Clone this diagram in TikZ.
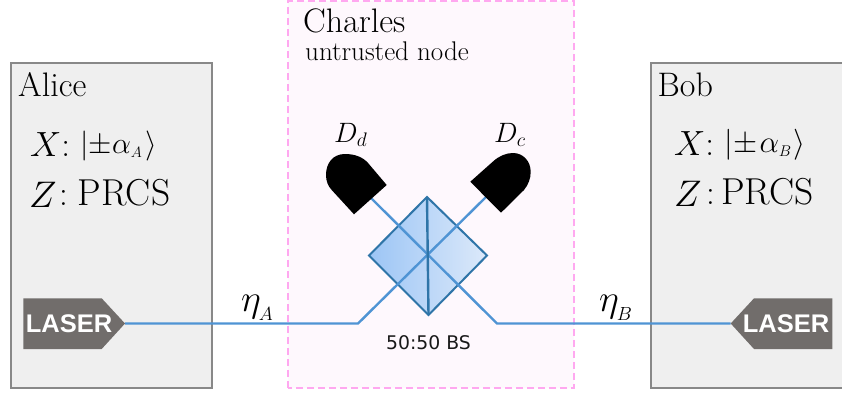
\RequirePackage{fix-cm}
\documentclass[tikz,border=0pt]{standalone}
\usepackage{fontspec}
\newfontfamily\lasfont{Liberation Sans}
\newfontfamily\bsfont{DejaVu Sans}
\definecolor{boxfill}{HTML}{EFEFEF}
\definecolor{boxline}{HTML}{888888}
\definecolor{pinkfill}{HTML}{FEF8FD}
\definecolor{pinkline}{HTML}{FFA8F0}
\definecolor{beam}{HTML}{4F94D4}
\definecolor{bsline}{HTML}{2F75A8}
\definecolor{bsleft}{HTML}{9CC5F5}
\definecolor{bsright}{HTML}{DCE9FA}
\definecolor{lasergrey}{HTML}{716D6B}
\newcommand{\sz}[1]{\fontsize{#1}{#1}\selectfont}
\newcommand{\ketA}{\raisebox{3pt}{\sz{30}$|$\hspace{0.2pt}$\pm$\hspace{0.2pt}$\alpha_{\scriptscriptstyle A}$\hspace{3.5pt}$\rangle$}}
\newcommand{\ketB}{\raisebox{3pt}{\sz{31}$|$\hspace{0.7pt}$\pm$\hspace{2pt}$\alpha_{\scriptscriptstyle B}$\hspace{1.5pt}$\rangle$}}
\newcommand{\prcsline}[2]{\sz{37}$Z$\hspace{#1}\raisebox{2.5pt}{\sz{35}$:$}\hspace{#2}\raisebox{2.5pt}{\sz{37.5}PRCS}}
\newcommand{\etalabel}[1]{\sz{38}$\eta$\hspace{-2pt}\raisebox{-9.5pt}{\sz{19}$#1$}}
\tikzset{
  partybox/.style={fill=boxfill,draw=boxline,line width=2pt},
  beamline/.style={draw=beam,line width=2.4pt,line join=miter},
  lasershape/.style={fill=lasergrey},
  lasertext/.style={text=white,font=\lasfont\bfseries\sz{25.5},inner sep=0pt},
  lbl/.style={anchor=base west,inner sep=0pt,text=black},
  big/.style={lbl,font=\sz{34}},
  sub/.style={lbl,font=\sz{27}},
  formula/.style={lbl,font=\sz{35}},
  dlabel/.style={lbl,font=\sz{28}},
}
\begin{document}
\begin{tikzpicture}[x=1pt,y=-1pt]
\useasboundingbox (0,0) rectangle (842,394);
\fill[white] (0,0) rectangle (842,394);
% boxes
\fill[pinkfill] (288,0.8) rectangle (574,388);
\draw[pinkline,line width=1.6pt,dash pattern=on 7pt off 4pt] (288,388) -- (288,0.8) -- (574,0.8) -- (574,388) -- cycle;
\path[partybox] (10.5,63) rectangle (211.5,388);
\path[partybox] (650.5,63) rectangle (848,388);
% coordinates
\coordinate (bsT) at (427,197);
\coordinate (bsL) at (369,255.5);
\coordinate (bsR) at (487,255.5);
\coordinate (bsB) at (428.5,315);
\coordinate (alaser) at (125,323.5);
\coordinate (blaser) at (730.7,323.5);
\coordinate (bendA) at (358,323.5);
\coordinate (bendB) at (497,323.5);
\coordinate (detD) at (371,198);
\coordinate (detC) at (486,197);
% beam splitter
\shade[left color=bsleft,right color=bsright] (bsT) -- (bsR) -- (bsB) -- (bsL) -- cycle;
\draw[bsline,line width=2pt,line join=miter] (bsT) -- (bsR) -- (bsB) -- (bsL) -- cycle;
% beams
\draw[beamline] (alaser) -- (bendA) -- (detC);
\draw[beamline] (blaser) -- (bendB) -- (detD);
\draw[bsline,line width=2.4pt] (bsT) -- (bsB);
% detectors
\fill[black] (386.7,185) -- (368.3,163.3) .. controls (362,156) and (353,154) .. (345,154) .. controls (333,154) and (326,163) .. (326,175) .. controls (326,181) and (328,186) .. (331.7,190) -- (354,214.3) -- cycle;
\fill[black] (470.3,181.7) -- (493,161.5) .. controls (499,156) and (506,153) .. (513,153) .. controls (523,153) and (530.7,161) .. (530.7,172) .. controls (530.7,179) and (528,185) .. (524,190) -- (501,212.7) -- cycle;
% lasers
\fill[lasershape] (23.3,298.3) -- (101.7,298.3) -- (alaser) -- (101.7,349) -- (23.3,349) -- cycle;
\fill[lasershape] (832.3,298.3) -- (754,298.3) -- (blaser) -- (754,349) -- (832.3,349) -- cycle;
\node[lasertext,anchor=base] (lasA) at (69,332) {LASER};
\node[lasertext,anchor=base] (lasB) at (786,332) {LASER};
% labels
\node[big] (alice) at (18,96) {Alice};
\node[big] (bob) at (657.5,96) {Bob};
\node[big] (charles) at (303,32.5) {Charles};
\node[sub] (untrusted) at (305,60) {untrusted node};
\node[formula] (xa) at (30,156) {$X{:}$\hspace{10pt}\ketA};
\node[formula] (za) at (29,207.5) {\prcsline{2.5pt}{10pt}};
\node[formula] (xb) at (674,155) {$X{:}$\hspace{10pt}\ketB};
\node[formula] (zb) at (674,206.5) {\prcsline{4.5pt}{6.5pt}};
\node[lbl] (etaA) at (241,311) {\etalabel{A}};
\node[lbl] (etaB) at (599,311) {\etalabel{B}};
\node[dlabel] (dd) at (334,142) {$D_d$};
\node[dlabel] (dc) at (494,142) {$D_c$};
\node[anchor=base,inner sep=0pt,font=\bsfont\sz{18.8},text=black!90] (bs) at (428.5,349) {50:50 BS};
\end{tikzpicture}
\end{document}
